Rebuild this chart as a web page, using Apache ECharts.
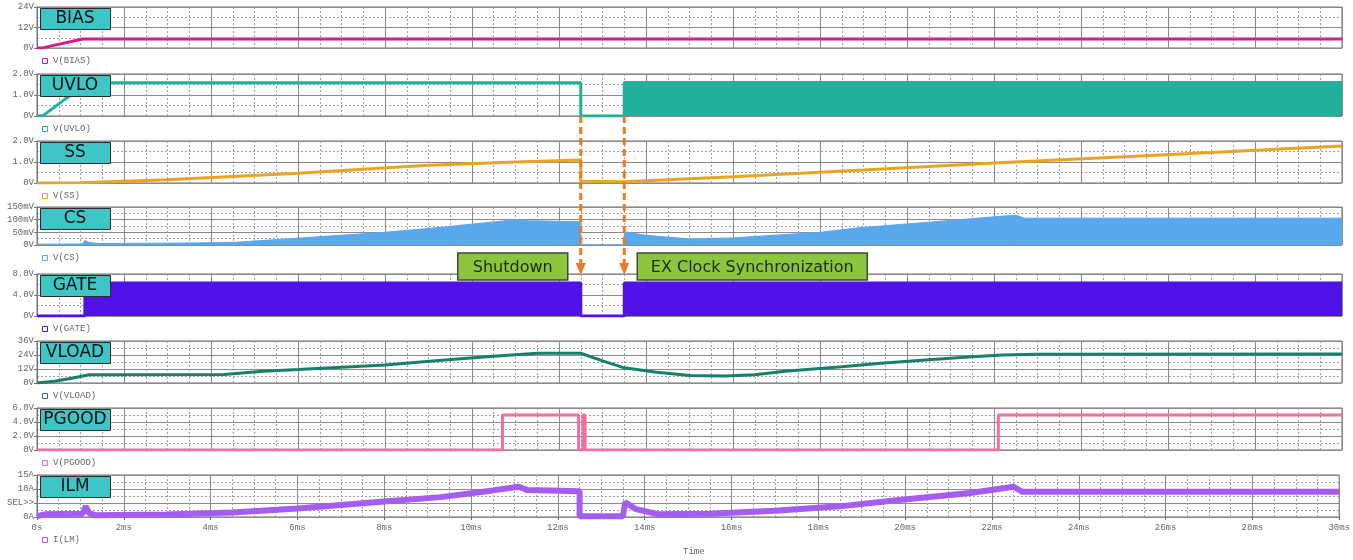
<!DOCTYPE html>
<html><head><meta charset="utf-8">
<script src="https://cdn.jsdelivr.net/npm/echarts@6/dist/echarts.min.js"></script>
<style>html,body{margin:0;padding:0;background:#fff}#c{width:1353px;height:560px}</style>
</head><body><div id="c"></div>
<script>
// ---- data (time in ms) ----
const X_TICKS = ['0s','2ms','4ms','6ms','8ms','10ms','12ms','14ms','16ms','18ms','20ms','22ms','24ms','26ms','28ms','30ms'];

const BIAS = [[0,0],[0.15,0.2],[1.05,5.3],[30,5.3]];
const BIAS_TICKS = ['0V','12V','24V'];

const UVLO = [[0,0],[0.14,0.02],[1.15,1.58],[12.5,1.58],[12.5,0],[13.5,0],[13.5,1.6],[30,1.6]];
const UVLO_SW = [[13.5,1.6],[30,1.6]];
const UVLO_TICKS = ['0V','1.0V','2.0V'];

const SS = [[0,0],[1,0.01],[3,0.15],[6,0.47],[9,0.85],[11,1.0],[12.5,1.1],[12.5,0.08],[13.5,0.06],[16,0.3],[19,0.62],[22,0.95],[25,1.25],[30,1.76]];
const SS_TICKS = ['0V','1.0V','2.0V'];

const CS = [[0,3],[1.05,4],[1.1,18],[1.2,10],[1.4,6],[3,7],[4.5,10],[6,27],[8,50],[9.3,70],[11,100],[11.3,96],[12.5,92],[12.5,0],[13.5,0],[13.5,52],[14,38],[15,24],[16,28],[18,50],[18.9,68],[20.5,90],[22.5,118],[22.7,106],[30,106]];
const CS_TICKS = ['0V','50mV','100mV','150mV'];

const GATE = [[0,0],[1.1,0],[1.1,6.3],[12.5,6.3],[12.5,0],[13.5,0],[13.5,6.3],[30,6.3]];
const GATE_TICKS = ['0V','4.0V','8.0V'];

const VLOAD = [[0,0],[0.4,1.5],[0.8,4],[1.2,7],[4.3,7.3],[5.2,10],[6,11.5],[8,15.5],[9.3,19.5],[10.5,23],[11.5,25.5],[12.5,25.5],[13,19],[13.5,13],[14.2,9.5],[15,6.5],[15.8,6],[16.5,7],[17.2,10],[18.5,14],[19.4,17],[20.5,20],[21.5,22.5],[22.2,24],[23,24.6],[30,24.8]];
const VLOAD_TICKS = ['0V','12V','24V','36V'];

const PGOOD = [[0,0],[10.7,0],[10.7,5],[12.45,5],[12.45,0],[12.55,0],[12.55,5],[12.6,5],[12.6,0],[22.1,0],[22.1,5],[30,5]];
const PGOOD_TICKS = ['0V','2.0V','4.0V','6.0V'];

const ILM = [[0,0.3],[0.2,1],[1.05,1.2],[1.12,3.8],[1.2,1.4],[1.35,0.6],[3,0.9],[4.5,1.6],[6,3],[8,5.5],[9.3,7.1],[10.5,9.5],[11.1,10.8],[11.3,9.6],[12.5,9.2],[12.5,0.3],[13.5,0.3],[13.55,5.3],[13.8,2.8],[14.3,1.0],[15.5,1.2],[17,2.2],[18.5,3.8],[19.8,6],[21.5,8.6],[22.5,10.8],[22.7,9.0],[30,9.0]];
const ILM_TICKS = ['0A','SEL>>','10A','15A'];

const SHUTDOWN_T = 12.5, RESUME_T = 13.5;

// ---- layout ----
const LEFT = 37, RIGHT = 11;
const panels = [
  {name:'BIAS', leg:'V(BIAS)', top:7, h:41, max:24, iv:12, ticks:BIAS_TICKS, color:'#d81b88', series:[{d:BIAS}]},
  {name:'UVLO', leg:'V(UVLO)', top:74, h:42, max:2, iv:1, ticks:UVLO_TICKS, color:'#21b09c', series:[{d:UVLO},{d:UVLO_SW, area:true}]},
  {name:'SS', leg:'V(SS)', top:141, h:42, max:2, iv:1, ticks:SS_TICKS, color:'#eaa520', series:[{d:SS}]},
  {name:'CS', leg:'V(CS)', top:207, h:38, max:150, iv:50, ticks:CS_TICKS, color:'#58a8ee', series:[{d:CS, area:true, lw:1}]},
  {name:'GATE', leg:'V(GATE)', top:274, h:42, max:8, iv:4, ticks:GATE_TICKS, color:'#5012e6', series:[{d:GATE, area:true}]},
  {name:'VLOAD', leg:'V(VLOAD)', top:341, h:42, max:36, iv:12, ticks:VLOAD_TICKS, color:'#17806c', series:[{d:VLOAD}]},
  {name:'PGOOD', leg:'V(PGOOD)', top:408, h:42, max:6, iv:2, ticks:PGOOD_TICKS, color:'#f06fa4', series:[{d:PGOOD}]},
  {name:'ILM', leg:'I(LM)', top:475, h:42, max:15, iv:5, ticks:ILM_TICKS, color:'#a55cf0', series:[{d:ILM, lw:6}]}
];

const MONO = '"Liberation Mono", "DejaVu Sans Mono", monospace';
const grid = [], xAxis = [], yAxis = [], series = [], graphic = [];
panels.forEach((p, i) => {
  grid.push({left:LEFT, right:RIGHT, top:p.top, height:p.h, show:true, borderColor:'#6f6f6f', borderWidth:1, backgroundColor:'#fdfdfd'});
  const last = i === panels.length - 1;
  xAxis.push({
    gridIndex:i, type:'value', min:0, max:30, interval:2,
    axisLine:{show:false}, axisTick:{show:last, length:3, lineStyle:{color:'#666'}},
    axisLabel:{show:last, color:'#666', fontFamily:MONO, fontSize:9, margin:6,
      formatter:(v)=> X_TICKS[Math.round(v/2)]},
    splitLine:{show:true, lineStyle:{color:'#8a8a8a', width:1}},
    minorTick:{show:false, splitNumber:4},
    minorSplitLine:{show:true, lineStyle:{color:'#a0a0a0', width:1, type:[2,2]}}
  });
  yAxis.push({
    gridIndex:i, type:'value', min:0, max:p.max, interval:p.iv,
    axisLine:{show:true, lineStyle:{color:'#777'}},
    axisTick:{show:true, length:3, lineStyle:{color:'#777'}},
    axisLabel:{color:'#666', fontFamily:MONO, fontSize:9, margin:3,
      formatter:(v)=> p.ticks[Math.round(v/p.iv)]},
    splitLine:{show:true, lineStyle:{color:'#8a8a8a', width:1}},
    minorTick:{show:false, splitNumber:2},
    minorSplitLine:{show:true, lineStyle:{color:'#a0a0a0', width:1, type:[2,2]}}
  });
  p.series.forEach(s => {
    series.push({
      type:'line', xAxisIndex:i, yAxisIndex:i, data:s.d, showSymbol:false, silent:true,
      animation:false, clip:true,
      lineStyle:{color:p.color, width:s.lw || 3},
      areaStyle: s.area ? {color:p.color, opacity:1, origin:'start'} : undefined,
      z: 3
    });
  });
  // label box
  graphic.push({type:'rect', left:40, top:p.top+1, z:10,
    shape:{width:70, height:21}, style:{fill:'#3ec5c6', stroke:'#2a2a2a', lineWidth:1}});
  graphic.push({type:'text', x:75, y:p.top+12, z:11,
    style:{text:p.name, fill:'#111', font:'17px "DejaVu Sans", sans-serif', textAlign:'center', textVerticalAlign:'middle'}});
  // legend row
  const ly = last ? 540 : p.top + p.h + 13;
  graphic.push({type:'rect', left:42, top:ly-3, z:10, shape:{width:5, height:5}, style:{fill:'#fff', stroke:p.color, lineWidth:1}});
  graphic.push({type:'text', x:53, y:ly, z:10,
    style:{text:p.leg, fill:'#666', font:'9px ' + MONO, textVerticalAlign:'middle'}});
});
graphic.push({type:'text', x:683, y:552, z:10, style:{text:'Time', fill:'#666', font:'9px ' + MONO, textVerticalAlign:'middle'}});

const chart = echarts.init(document.getElementById('c'), null, {renderer:'canvas'});
chart.setOption({animation:false, backgroundColor:'#ffffff', grid, xAxis, yAxis, series, graphic});

// annotations positioned through the axes
const xs = chart.convertToPixel({gridIndex:1}, [SHUTDOWN_T, 0]);
const xr = chart.convertToPixel({gridIndex:1}, [RESUME_T, 0]);
const gTop = chart.convertToPixel({gridIndex:4}, [SHUTDOWN_T, 8])[1];
const y0 = xs[1], tip = gTop + 1;
const ORANGE = '#ec7a24';
const ann = [];
[xs[0], xr[0]].forEach(x => {
  ann.push({type:'line', z:20, shape:{x1:x, y1:y0, x2:x, y2:tip-11}, style:{stroke:ORANGE, lineWidth:3, lineDash:[7,4]}});
  ann.push({type:'polygon', z:20, shape:{points:[[x-5,tip-12],[x+5,tip-12],[x,tip]]}, style:{fill:ORANGE}});
});
const by = 253, bh = 27;
ann.push({type:'rect', z:20, shape:{x:xs[0]-123, y:by, width:110, height:bh}, style:{fill:'#8cc63e', stroke:'#3d4a3a', lineWidth:1.5}});
ann.push({type:'text', z:21, x:xs[0]-68, y:by+bh/2+1, style:{text:'Shutdown', fill:'#1c2a18', font:'16px "DejaVu Sans", sans-serif', textAlign:'center', textVerticalAlign:'middle'}});
ann.push({type:'rect', z:20, shape:{x:xr[0]+13, y:by, width:230, height:bh}, style:{fill:'#8cc63e', stroke:'#3d4a3a', lineWidth:1.5}});
ann.push({type:'text', z:21, x:xr[0]+128, y:by+bh/2+1, style:{text:'EX Clock Synchronization', fill:'#1c2a18', font:'16px "DejaVu Sans", sans-serif', textAlign:'center', textVerticalAlign:'middle'}});
chart.setOption({graphic: graphic.concat(ann)});
</script></body></html>
